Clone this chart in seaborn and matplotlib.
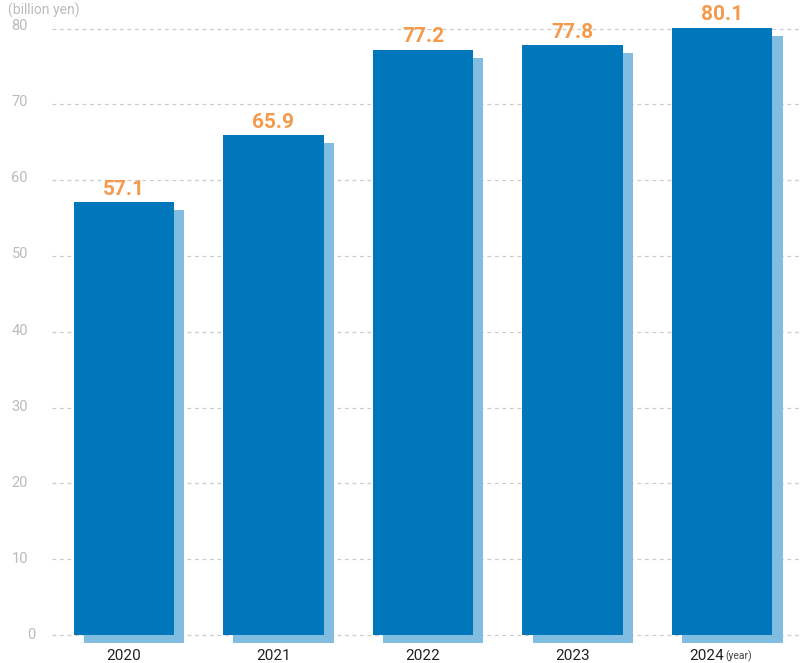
import matplotlib
matplotlib.use("Agg")
import matplotlib.pyplot as plt
import seaborn as sns
import numpy as np
import pandas as pd

years = ["2020", "2021", "2022", "2023", "2024"]
values = [57.1, 65.9, 77.2, 77.8, 80.1]
yticks = [0, 10, 20, 30, 40, 50, 60, 70, 80]

sns.set_theme(style="white")
plt.rcParams['font.family'] = ['Roboto', 'DejaVu Sans']

W, H = 803, 663
fig = plt.figure(figsize=(W / 100, H / 100), dpi=100)
ax_left, ax_bottom_px, ax_top_px = 52, 648, 10
ax = fig.add_axes([ax_left / W, (H - ax_bottom_px) / H, (W - ax_left) / W,
                   (ax_bottom_px - ax_top_px) / H])

df = pd.DataFrame({"year": years, "value": values})
main_c = "#0077BB"
shadow_c = "#80BDE0"

scale = 7.58  # px per unit
y0_px = 635
ylo = (y0_px - ax_bottom_px) / scale
yhi = (y0_px - ax_top_px) / scale

# shadows
dx, dy = 0.068, 8 / scale
x = np.arange(len(years))
ax.bar(x + dx, np.array(values), width=0.67, bottom=-dy, color=shadow_c,
       zorder=1, linewidth=0)
sns.barplot(data=df, x="year", y="value", color=main_c, saturation=1,
            width=0.67, ax=ax, zorder=2, linewidth=0)

for i, v in enumerate(values):
    ax.text(i, v + 0.45, f"{v}", ha="center", va="bottom", color="#F39A4E",
            fontsize=15, fontweight="bold", zorder=3)

ax.set_xlim(-0.48, 4.54)
ax.set_ylim(ylo, yhi)
for t in yticks:
    ax.axhline(t, color="#CCCCCC", lw=0.9, ls=(0, (3, 3)), zorder=0)
ax.set_xticks([])
ax.set_yticks([])
ax.set_xlabel("")
ax.set_ylabel("")
for s in ax.spines.values():
    s.set_visible(False)
ax.set_facecolor("none")

# y tick labels
for t in yticks:
    xp = 35 if t == 0 else 28
    fig.text(xp / W, 1 - (y0_px - t * 7.61) / H, str(t), color="#BBBBBB",
             fontsize=10.5, ha="right", va="center")

# x tick labels
ylab = (y0_px - 656) / scale
for i, yr in enumerate(years):
    if i == len(years) - 1:
        ax.text(i + 0.01, ylab, yr, ha="right", va="center", color="#222222",
                fontsize=11, clip_on=False)
        ax.text(i + 0.02, ylab, "(year)", ha="left", va="center",
                color="#444444", fontsize=7.5, clip_on=False)
    else:
        ax.text(i, ylab, yr, ha="center", va="center", color="#222222",
                fontsize=11, clip_on=False)

fig.text(8 / W, 1 - 10 / H, "(billion yen)", color="#BBBBBB", fontsize=10,
         va="center", ha="left")

fig.savefig("out.png", dpi=100)
